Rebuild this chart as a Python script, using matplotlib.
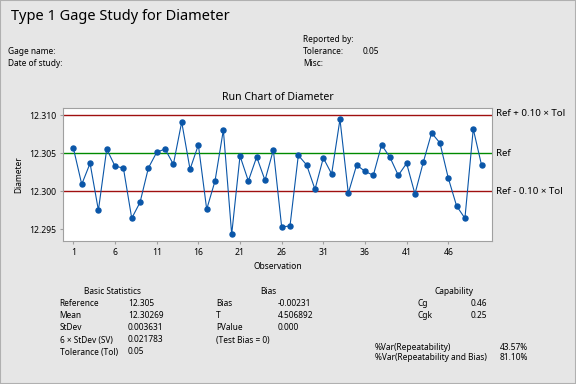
import matplotlib
matplotlib.use("Agg")
import matplotlib.pyplot as plt
from matplotlib.patches import Rectangle

plt.rcParams['font.family'] = ['Noto Sans', 'DejaVu Sans']

# run chart data
observation = list(range(1, 51))
diameter = [12.30566, 12.30092, 12.30368, 12.29750, 12.30557, 12.30329, 12.30307,
            12.29645, 12.29855, 12.30307, 12.30513, 12.30557, 12.30355, 12.30912,
            12.30290, 12.30610, 12.29763, 12.30136, 12.30807, 12.29434, 12.30465,
            12.30136, 12.30452, 12.30145, 12.30544, 12.29531, 12.29544, 12.30474,
            12.30346, 12.30026, 12.30439, 12.30228, 12.30947, 12.29974, 12.30346,
            12.30263, 12.30210, 12.30610, 12.30447, 12.30210, 12.30368, 12.29965,
            12.30382, 12.30768, 12.30636, 12.30175, 12.29807, 12.29645, 12.30820,
            12.30342]
reference = 12.305
tolerance = 0.05
x_ticks = [1, 6, 11, 16, 21, 26, 31, 36, 41, 46]
y_ticks = [12.295, 12.300, 12.305, 12.310]

basic_labels = ["Reference", "Mean", "StDev", "6 \u00d7 StDev (SV)", "Tolerance (Tol)"]
basic_values = ["12.305", "12.30269", "0.003631", "0.021783", "0.05"]
bias_labels = ["Bias", "T", "PValue", "(Test Bias = 0)"]
bias_values = ["-0.00231", "4.506892", "0.000", ""]
cap_labels = ["Cg", "Cgk"]
cap_values = ["0.46", "0.25"]
var_labels = ["%Var(Repeatability)", "%Var(Repeatability and Bias)"]
var_values = ["43.57%", "81.10%"]

W, H = 576, 384
bg = "#e6e6e6"
fig = plt.figure(figsize=(W / 100, H / 100), dpi=100, facecolor=bg)
fig.patches.append(Rectangle((0, 0), 1, 1, transform=fig.transFigure,
                             fill=False, edgecolor="#b0b0b0", linewidth=1.5))


def txt(x, y, s, size=6, **kw):
    # place text with pixel coordinates from top-left
    fig.text(x / W, 1 - y / H, s, fontsize=size, va="center", **kw)


# header
txt(11, 17, "Type 1 Gage Study for Diameter", size=10.5)
txt(8, 51, "Gage name:")
txt(8, 63, "Date of study:")
txt(303, 39, "Reported by:")
txt(303, 51, "Tolerance:")
txt(363, 51, "0.05")
txt(303, 63, "Misc:")

# run chart
ax = fig.add_axes([63 / W, 1 - 241 / H, 429 / W, 133 / H])
ax.set_facecolor("white")
up = reference + 0.10 * tolerance
lo = reference - 0.10 * tolerance
ax.axhline(up, color="#a01010", lw=1)
ax.axhline(reference, color="#008a00", lw=1)
ax.axhline(lo, color="#a01010", lw=1)
ax.plot(observation, diameter, color="#0a56a8", lw=0.8, marker="o", ms=3.6)
ax.set_xlim(-0.25, 51.25)
ax.set_ylim(12.29346, 12.31096)
ax.set_xticks(x_ticks)
ax.set_yticks(y_ticks)
ax.set_yticklabels([f"{v:.3f}" for v in y_ticks])
for s in ax.spines.values():
    s.set_color("#a0a0a0")
ax.tick_params(labelsize=6.2, length=2.2, color="#a0a0a0", pad=2.7)
ax.set_title("Run Chart of Diameter", fontsize=7.6, pad=6)
ax.set_xlabel("Observation", fontsize=6.1, labelpad=4)
ax.set_ylabel("Diameter", fontsize=6, labelpad=4)

txt(496, 114, "Ref + 0.10 \u00d7 Tol", size=7)
txt(496, 153.5, "Ref", size=7)
txt(496, 192, "Ref - 0.10 \u00d7 Tol", size=7)

# statistics tables
txt(112.4, 291, "Basic Statistics", ha="center")
for i, (l, v) in enumerate(zip(basic_labels, basic_values)):
    txt(59.5, 304 + 12 * i, l)
    txt(128, 304 + 12 * i, v)

txt(268, 291, "Bias", ha="center")
for i, (l, v) in enumerate(zip(bias_labels, bias_values)):
    txt(216, 304 + 12 * i, l)
    txt(278, 304 + 12 * i, v)

txt(453.6, 291, "Capability", ha="center")
for i, (l, v) in enumerate(zip(cap_labels, cap_values)):
    txt(417.6, 304 + 12 * i, l)
    txt(471, 304 + 12 * i, v)
for i, (l, v) in enumerate(zip(var_labels, var_values)):
    txt(374.7, 347 + 11 * i, l)
    txt(500, 347 + 11 * i, v)

fig.savefig("out.png", dpi=100, facecolor=bg)
